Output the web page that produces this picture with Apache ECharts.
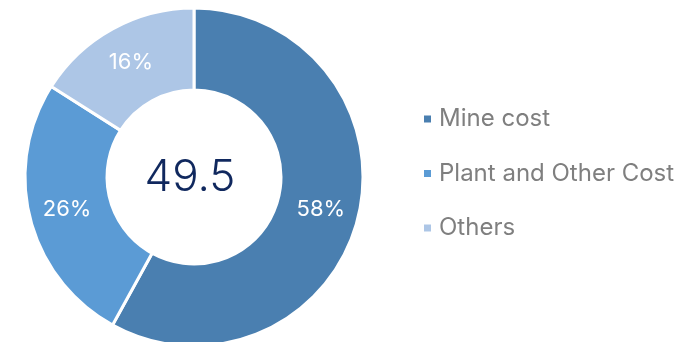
<!DOCTYPE html>
<html>
<head>
<meta charset="utf-8">
<script src="https://cdn.jsdelivr.net/npm/echarts@6/dist/echarts.min.js"></script>
<style>
  html, body { margin: 0; padding: 0; background: #ffffff; }
  #chart { width: 695px; height: 342px; }
</style>
</head>
<body>
<div id="chart"></div>
<script>
// Cost breakdown (share of total, %)
const categories = ['Mine cost', 'Plant and Other Cost', 'Others'];
const shares = [58, 26, 16];
const colors = ['#4a7fb0', '#5b9bd5', '#adc6e6'];
const totalLabel = '49.5';

const FONT = 'Inter, "Open Sans", sans-serif';

const chart = echarts.init(document.getElementById('chart'), null, { renderer: 'canvas' });

chart.setOption({
  animation: false,
  backgroundColor: '#ffffff',
  color: colors,
  legend: {
    orient: 'vertical',
    left: 417,
    top: 102,
    icon: 'rect',
    itemWidth: 9,
    itemHeight: 9,
    itemGap: 30.5,
    textStyle: {
      fontFamily: FONT,
      fontSize: 24,
      lineHeight: 24,
      color: '#7f7f7f',
      padding: [0, 0, 0, 2]
    },
    data: categories
  },
  graphic: [{
    type: 'text',
    x: 190,
    y: 178,
    z: 100,
    style: {
      text: totalLabel,
      fontFamily: FONT,
      fontSize: 44,
      fontWeight: 300,
      fill: '#10285e',
      align: 'center',
      verticalAlign: 'middle'
    }
  }],
  series: [{
    type: 'pie',
    center: [194, 177],
    radius: [87, 169],
    startAngle: 90,
    clockwise: true,
    avoidLabelOverlap: false,
    itemStyle: { borderColor: '#ffffff', borderWidth: 3 },
    label: {
      show: true,
      position: 'inside',
      formatter: '{c}%',
      fontFamily: FONT,
      fontSize: 22,
      color: '#ffffff'
    },
    labelLine: { show: false },
    emphasis: { disabled: true },
    data: categories.map((name, i) => ({ name, value: shares[i] }))
  }]
});
</script>
</body>
</html>
